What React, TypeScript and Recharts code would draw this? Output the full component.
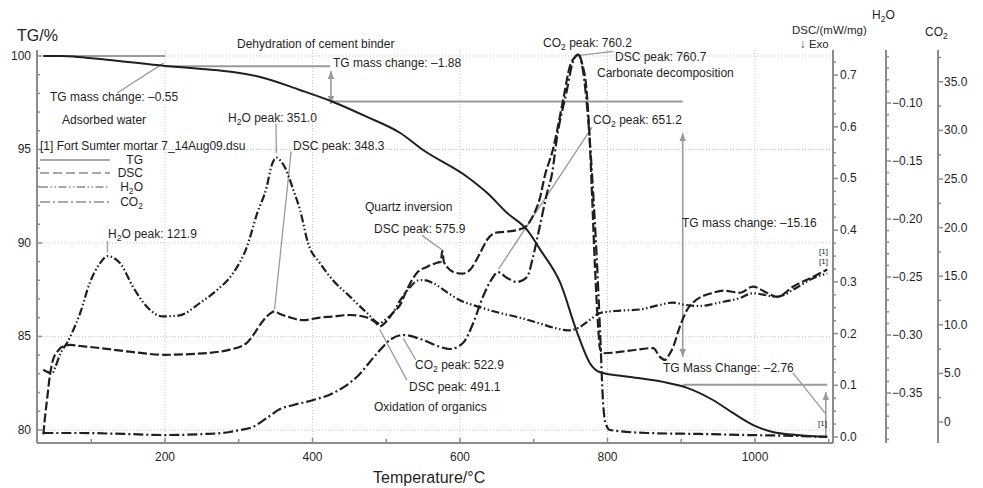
import React from 'react';
import { ComposedChart, Line, XAxis, YAxis, CartesianGrid, ReferenceLine } from 'recharts';

// TG / DSC / evolved-gas curves for Fort Sumter mortar 7 (temperature in °C)

const tgCurve: [number, number][] = [
  [35, 100.0], [60, 100.0], [81, 99.95], [125, 99.79], [200, 99.47], [250, 99.3], [292, 99.14],
  [329, 98.88], [383, 98.18], [428, 97.54], [474, 96.74], [519, 95.88], [550, 94.97], [610, 93.53],
  [637, 92.67], [664, 91.6], [691, 90.7], [709, 89.63], [736, 87.86], [759, 85.19], [776, 83.58],
  [790, 83.08], [831, 82.83], [875, 82.57], [908, 82.25], [943, 81.6], [970, 80.91], [997, 80.27],
  [1024, 79.89], [1057, 79.73], [1098, 79.63],
];

const dscCurve: [number, number][] = [
  [35, 0.005], [37, 0.035], [40, 0.072], [44, 0.12], [48, 0.149], [54, 0.165], [60, 0.174], [71, 0.178],
  [85, 0.176], [112, 0.172], [152, 0.165], [200, 0.159], [243, 0.161], [288, 0.169], [311, 0.182],
  [320, 0.198], [333, 0.225], [342, 0.238], [348.3, 0.243], [356, 0.238], [370, 0.231], [387, 0.226],
  [410, 0.231], [427, 0.233], [451, 0.236], [474, 0.231], [485, 0.222], [491.1, 0.214], [501, 0.225],
  [509, 0.24], [519, 0.256], [528, 0.285], [542, 0.318], [555, 0.329], [569, 0.337], [574, 0.339],
  [575.9, 0.36], [578, 0.34], [583, 0.328], [593, 0.318], [603, 0.316], [614, 0.324], [627, 0.355],
  [637, 0.382], [648, 0.395], [661, 0.397], [677, 0.4], [690, 0.408], [699, 0.428], [708, 0.46],
  [715, 0.505], [726, 0.556], [740, 0.653], [749, 0.717], [756, 0.735], [760.7, 0.74], [766, 0.72],
  [771, 0.68], [775, 0.6], [779, 0.47], [783, 0.33], [787, 0.22], [790, 0.17], [795, 0.162],
  [830, 0.167], [862, 0.172], [871, 0.155], [878, 0.149], [884, 0.16], [889, 0.174], [898, 0.213],
  [908, 0.246], [916, 0.26], [943, 0.279], [957, 0.283], [980, 0.279], [997, 0.291], [1016, 0.279],
  [1030, 0.271], [1052, 0.291], [1079, 0.31], [1098, 0.324],
];

const h2oCurve: [number, number][] = [
  [35, -0.33], [41, -0.332], [47, -0.333], [51, -0.328], [58, -0.316], [67, -0.307], [74, -0.298],
  [85, -0.281], [98, -0.255], [112, -0.238], [121.9, -0.232], [139, -0.238], [157, -0.259],
  [176, -0.276], [197, -0.284], [220, -0.283], [248, -0.272], [271, -0.261], [292, -0.247],
  [311, -0.224], [325, -0.195], [338, -0.172], [344, -0.155], [351, -0.147], [357, -0.15],
  [363, -0.156], [374, -0.175], [383, -0.192], [394, -0.221], [410, -0.238], [428, -0.253],
  [451, -0.267], [474, -0.281], [491.5, -0.29], [496, -0.288], [509, -0.281], [519, -0.27],
  [532, -0.259], [543, -0.253], [550, -0.2526], [563, -0.255], [582, -0.263], [600, -0.27],
  [627, -0.276], [654, -0.281], [681, -0.285], [708, -0.29], [729, -0.294], [746, -0.296],
  [760, -0.294], [776, -0.287], [790, -0.281], [817, -0.279], [844, -0.278], [871, -0.274],
  [888, -0.272], [905, -0.274], [925, -0.275], [952, -0.272], [980, -0.268], [997, -0.264],
  [1030, -0.267], [1057, -0.259], [1079, -0.251], [1098, -0.247],
];

const co2Curve: [number, number][] = [
  [35, -1.13], [85, -1.13], [145, -1.23], [200, -1.34], [256, -1.23], [288, -1.03], [302, -0.82],
  [319, -0.51], [338, 0.41], [356, 1.34], [374, 1.75], [401, 2.26], [428, 2.98], [460, 4.63],
  [488, 7.1], [505, 8.44], [522.9, 8.95], [550, 8.44], [573, 7.72], [586, 7.51], [604, 8.13],
  [618, 10.19], [631, 12.86], [645, 14.92], [651.2, 15.43], [664, 14.81], [677, 14.4], [691, 14.92],
  [699, 16.98], [708, 20.06], [718, 23.56], [725, 25.62], [731, 29.01], [745, 34.16], [753, 37.04],
  [760.2, 37.8], [766, 36.5], [771, 33.5], [776, 29.0], [781, 23.0], [786, 16.0], [790, 9.2],
  [794, 2.0], [797, 0.0], [803, -0.82], [854, -1.13], [925, -1.23], [989, -1.34], [1061, -1.44],
  [1098, -1.54],
];

// axis ticks and labels
const tempMajor = [200, 400, 600, 800, 1000];
const tempMinor = [100, 300, 500, 700, 900, 1100];
const tgMajor = [80, 85, 90, 95, 100];
const tgLabels = ['80', '85', '90', '95', '100'];
const dscMajor = [0, 0.1, 0.2, 0.3, 0.4, 0.5, 0.6, 0.7];
const dscLabels = ['0.0', '0.1', '0.2', '0.3', '0.4', '0.5', '0.6', '0.7'];
const h2oMajor = [-0.35, -0.3, -0.25, -0.2, -0.15, -0.1];
const h2oLabels = ['\u22120.35', '\u22120.30', '\u22120.25', '\u22120.20', '\u22120.15', '\u22120.10'];
const co2Major = [0, 5, 10, 15, 20, 25, 30, 35];
const co2Labels = ['0', '5.0', '10.0', '15.0', '20.0', '25.0', '30.0', '35.0'];

// TG mass-change steps, drawn against the TG axis
const tgSteps: [number, number, number, number][] = [
  [35, 100, 200, 100],
  [200, 99.45, 424, 99.45],
  [424, 97.57, 902, 97.57],
  [902, 82.41, 1098, 82.41],
];

// right-hand axes are stacked outward in id order
const DSC = 'r1-dsc';
const H2O = 'r2-h2o';
const CO2 = 'r3-co2';

const INK = '#1f1f1f';
const AXIS = '#8c8c8c';
const NOTE = '#9a9a9a';
const FONT = '"Liberation Sans", Arial, Helvetica, sans-serif';

const W = 983;
const H = 488;

const toPoints = (rows: [number, number][]) => rows.map(([t, v]) => ({ t, v }));

const minors = (lo: number, hi: number, step: number, majors: number[]) => {
  const out: number[] = [];
  for (let v = lo; v <= hi + 1e-9; v += step) {
    const r = Math.round(v * 1000) / 1000;
    if (!majors.some((m) => Math.abs(m - r) < 1e-6)) out.push(r);
  }
  return out;
};

const findMajor = (majors: number[], v: number) => majors.findIndex((m) => Math.abs(m - v) < 1e-6);

const bottomTick = (props: any) => {
  const { x, y, payload } = props;
  const i = findMajor(tempMajor, payload.value);
  return (
    <g>
      <line x1={x} x2={x} y1={y} y2={y - (i >= 0 ? 5 : 4)} stroke={AXIS} strokeWidth={1.5} />
      {i >= 0 && (
        <text x={x} y={y + 18} textAnchor="middle" fontSize={12} fill={INK} fontFamily={FONT}>
          {payload.value}
        </text>
      )}
    </g>
  );
};

const leftTick = (props: any) => {
  const { x, y, payload } = props;
  const i = findMajor(tgMajor, payload.value);
  return (
    <g>
      <line x1={x} x2={x + (i >= 0 ? 5 : 3)} y1={y} y2={y} stroke={AXIS} strokeWidth={1.5} />
      {i >= 0 && (
        <text x={x - 6} y={y + 4} textAnchor="end" fontSize={12} fill={INK} fontFamily={FONT}>
          {tgLabels[i]}
        </text>
      )}
    </g>
  );
};

const rightTick = (majors: number[], labels: string[], dx: number) => (props: any) => {
  const { x, y, payload } = props;
  const i = findMajor(majors, payload.value);
  return (
    <g>
      <line x1={x} x2={x + (i >= 0 ? 5 : 3)} y1={y} y2={y} stroke={AXIS} strokeWidth={1.5} />
      {i >= 0 && (
        <text x={x + dx} y={y + 4} textAnchor="start" fontSize={12} fill={INK} fontFamily={FONT}>
          {labels[i]}
        </text>
      )}
    </g>
  );
};

// line with arrowheads for the mass-change brackets
const arrowShape = (heads: 'both' | 'end') => (props: any) => {
  const { x1, y1, x2, y2 } = props;
  const head = (px: number, py: number, ox: number, oy: number) => {
    const len = Math.hypot(px - ox, py - oy) || 1;
    const ux = (px - ox) / len;
    const uy = (py - oy) / len;
    const bx = px - ux * 8;
    const by = py - uy * 8;
    return `${px},${py} ${bx - uy * 3.2},${by + ux * 3.2} ${bx + uy * 3.2},${by - ux * 3.2}`;
  };
  return (
    <g>
      <line x1={x1} y1={y1} x2={x2} y2={y2} stroke={NOTE} strokeWidth={1.6} />
      <polygon points={head(x2, y2, x1, y1)} fill={NOTE} />
      {heads === 'both' && <polygon points={head(x1, y1, x2, y2)} fill={NOTE} />}
    </g>
  );
};

function Txt({ x, y, text, size = 12, anchor = 'start' }: any) {
  const parts = String(text).split('\u2082');
  return (
    <text x={x} y={y} fontSize={size} fill={INK} fontFamily={FONT} textAnchor={anchor}>
      {parts.map((p, i) => (
        <React.Fragment key={i}>
          {i > 0 && (
            <tspan dy={3} fontSize={size * 0.72}>
              2
            </tspan>
          )}
          {p !== '' && <tspan dy={i > 0 ? -3 : 0}>{p}</tspan>}
        </React.Fragment>
      ))}
    </text>
  );
}

const notes = [
  { x: 17, y: 41, text: 'TG/%', size: 16 },
  { x: 237, y: 48, text: 'Dehydration of cement binder' },
  { x: 333, y: 67, text: 'TG mass change: \u20131.88' },
  { x: 50, y: 101, text: 'TG mass change: \u20130.55' },
  { x: 62, y: 124, text: 'Adsorbed water' },
  { x: 228, y: 122, text: 'H\u2082O peak: 351.0' },
  { x: 40, y: 150, text: '[1] Fort Sumter mortar 7_14Aug09.dsu' },
  { x: 293, y: 150, text: 'DSC peak: 348.3' },
  { x: 108, y: 238, text: 'H\u2082O peak: 121.9' },
  { x: 365, y: 211, text: 'Quartz inversion' },
  { x: 374, y: 233, text: 'DSC peak: 575.9' },
  { x: 415, y: 369, text: 'CO\u2082 peak: 522.9' },
  { x: 409, y: 391, text: 'DSC peak: 491.1' },
  { x: 374, y: 411, text: 'Oxidation of organics' },
  { x: 543, y: 47, text: 'CO\u2082 peak: 760.2' },
  { x: 615, y: 61, text: 'DSC peak: 760.7' },
  { x: 597, y: 77, text: 'Carbonate decomposition' },
  { x: 593, y: 124, text: 'CO\u2082 peak: 651.2' },
  { x: 682, y: 227, text: 'TG mass change: \u201315.16' },
  { x: 663, y: 372, text: 'TG Mass Change: \u20132.76' },
  { x: 792, y: 34, text: 'DSC/(mW/mg)', size: 11.5 },
  { x: 800, y: 48, text: '\u2193 Exo', size: 11.5 },
  { x: 872, y: 19, text: 'H\u2082O' },
  { x: 925, y: 36, text: 'CO\u2082' },
  { x: 373, y: 483, text: 'Temperature/\u00b0C', size: 16 },
  { x: 819, y: 254, text: '[1]', size: 8 },
  { x: 819, y: 264, text: '[1]', size: 8 },
  { x: 818, y: 426, text: '[1]', size: 8 },
];

const legendRows = [
  { name: 'TG', dash: undefined, y: 160 },
  { name: 'DSC', dash: '9 4', y: 173 },
  { name: 'H\u2082O', dash: '8 2.5 1.5 2.5 1.5 2.5', y: 187 },
  { name: 'CO\u2082', dash: '10 3 2 3', y: 202 },
];

export default function App() {
  const tempTicks = [...tempMajor, ...tempMinor].sort((a, b) => a - b);
  const tgTicks = [...tgMajor, ...minors(80, 100, 1, tgMajor)].sort((a, b) => a - b);
  const dscTicks = [...dscMajor, ...minors(0, 0.725, 0.025, dscMajor)].sort((a, b) => a - b);
  const h2oTicks = [...h2oMajor, ...minors(-0.39, -0.06, 0.01, h2oMajor)].sort((a, b) => a - b);
  const co2Ticks = [...co2Major, ...minors(2.5, 37.5, 5, co2Major)].sort((a, b) => a - b);

  const curveProps = { type: 'monotone' as const, dot: false, isAnimationActive: false, stroke: INK, dataKey: 'v' };

  return (
    <div style={{ position: 'absolute', left: 0, top: 0, width: W, height: H, background: '#fff' }}>
      <ComposedChart width={W} height={H} margin={{ top: 50, right: 0, bottom: 0, left: 0 }}>
        <XAxis
          dataKey="t"
          type="number"
          domain={[26.4, 1105.8]}
          allowDataOverflow
          ticks={tempTicks}
          interval={0}
          height={45}
          tickSize={0}
          tickMargin={0}
          tickLine={false}
          tick={bottomTick}
          axisLine={{ stroke: AXIS, strokeWidth: 2 }}
        />
        <YAxis
          yAxisId="tg"
          orientation="left"
          type="number"
          domain={[79.3, 100.32]}
          allowDataOverflow
          ticks={tgTicks}
          interval={0}
          width={37}
          tickSize={0}
          tickMargin={0}
          tickLine={false}
          tick={leftTick}
          axisLine={{ stroke: AXIS, strokeWidth: 2 }}
        />
        <YAxis
          yAxisId={DSC}
          orientation="right"
          type="number"
          domain={[-0.0116, 0.7485]}
          allowDataOverflow
          ticks={dscTicks}
          interval={0}
          width={53}
          tickSize={0}
          tickMargin={0}
          tickLine={false}
          tick={rightTick(dscMajor, dscLabels, 7)}
          axisLine={{ stroke: AXIS, strokeWidth: 2 }}
        />
        <YAxis
          yAxisId={H2O}
          orientation="right"
          type="number"
          domain={[-0.3931, -0.0543]}
          allowDataOverflow
          ticks={h2oTicks}
          interval={0}
          width={52}
          tickSize={0}
          tickMargin={0}
          tickLine={false}
          tick={rightTick(h2oMajor, h2oLabels, 6)}
          axisLine={{ stroke: AXIS, strokeWidth: 2 }}
        />
        <YAxis
          yAxisId={CO2}
          orientation="right"
          type="number"
          domain={[-2.16, 38.27]}
          allowDataOverflow
          ticks={co2Ticks}
          interval={0}
          width={45}
          tickSize={0}
          tickMargin={0}
          tickLine={false}
          tick={rightTick(co2Major, co2Labels, 6)}
          axisLine={{ stroke: AXIS, strokeWidth: 2 }}
        />
        <CartesianGrid
          yAxisId="tg"
          horizontalValues={tgMajor}
          verticalValues={tempMajor}
          stroke="#c2c2c2"
          strokeDasharray="1 2"
        />

        {tgSteps.map(([x1, y1, x2, y2], i) => (
          <ReferenceLine
            key={`step${i}`}
            yAxisId="tg"
            segment={[{ x: x1, y: y1 }, { x: x2, y: y2 }]}
            stroke={NOTE}
            strokeWidth={2}
            ifOverflow="visible"
          />
        ))}
        <ReferenceLine yAxisId="tg" segment={[{ x: 425, y: 99.2 }, { x: 425, y: 97.43 }]} ifOverflow="visible" shape={arrowShape('both')} />
        <ReferenceLine yAxisId="tg" segment={[{ x: 902, y: 95.88 }, { x: 902, y: 83.9 }]} ifOverflow="visible" shape={arrowShape('both')} />
        <ReferenceLine yAxisId="tg" segment={[{ x: 1096, y: 79.63 }, { x: 1096, y: 82.03 }]} ifOverflow="visible" shape={arrowShape('end')} />

        {/* leaders from the notes to the peaks */}
        <ReferenceLine yAxisId="tg" segment={[{ x: 135, y: 98.02 }, { x: 198, y: 99.62 }]} stroke={NOTE} strokeWidth={1.3} ifOverflow="visible" />
        <ReferenceLine yAxisId="tg" segment={[{ x: 1051.5, y: 83.05 }, { x: 1095, y: 80.9 }]} stroke={NOTE} strokeWidth={1.3} ifOverflow="visible" />
        <ReferenceLine yAxisId={H2O} segment={[{ x: 121.9, y: -0.219 }, { x: 121.9, y: -0.229 }]} stroke={NOTE} strokeWidth={1.3} ifOverflow="visible" />
        <ReferenceLine yAxisId={H2O} segment={[{ x: 350.5, y: -0.118 }, { x: 351, y: -0.143 }]} stroke={NOTE} strokeWidth={1.3} ifOverflow="visible" />
        <ReferenceLine yAxisId={DSC} segment={[{ x: 371, y: 0.552 }, { x: 348.5, y: 0.247 }]} stroke={NOTE} strokeWidth={1.3} ifOverflow="visible" />
        <ReferenceLine yAxisId={DSC} segment={[{ x: 548.5, y: 0.39 }, { x: 575.5, y: 0.362 }]} stroke={NOTE} strokeWidth={1.3} ifOverflow="visible" />
        <ReferenceLine yAxisId={CO2} segment={[{ x: 540, y: 6.4 }, { x: 523, y: 8.6 }]} stroke={NOTE} strokeWidth={1.3} ifOverflow="visible" />
        <ReferenceLine yAxisId={DSC} segment={[{ x: 528, y: 0.11 }, { x: 491.1, y: 0.208 }]} stroke={NOTE} strokeWidth={1.3} ifOverflow="visible" />
        <ReferenceLine yAxisId={CO2} segment={[{ x: 779, y: 30.3 }, { x: 652, y: 15.7 }]} stroke={NOTE} strokeWidth={1.3} ifOverflow="visible" />
        <ReferenceLine yAxisId={DSC} segment={[{ x: 762, y: 0.738 }, { x: 808, y: 0.746 }]} stroke={NOTE} strokeWidth={1.3} ifOverflow="visible" />

        <Line {...curveProps} yAxisId={CO2} data={toPoints(co2Curve)} strokeWidth={2.2} strokeDasharray="10 3 2 3" />
        <Line {...curveProps} yAxisId={H2O} data={toPoints(h2oCurve)} strokeWidth={2.2} strokeDasharray="8 2.5 1.5 2.5 1.5 2.5" />
        <Line {...curveProps} yAxisId={DSC} data={toPoints(dscCurve)} strokeWidth={2.2} strokeDasharray="9 3" />
        <Line {...curveProps} yAxisId="tg" data={toPoints(tgCurve)} strokeWidth={2} />
      </ComposedChart>

      <svg width={W} height={H} style={{ position: 'absolute', left: 0, top: 0, pointerEvents: 'none' }}>
        {legendRows.map((r) => (
          <g key={r.name}>
            <line x1={40} x2={110} y1={r.y} y2={r.y} stroke="#a8a8a8" strokeWidth={2} strokeDasharray={r.dash} />
            <Txt x={143} y={r.y + 4} text={r.name} anchor="end" />
          </g>
        ))}
        {notes.map((n, i) => (
          <Txt key={i} {...n} />
        ))}
      </svg>
    </div>
  );
}
